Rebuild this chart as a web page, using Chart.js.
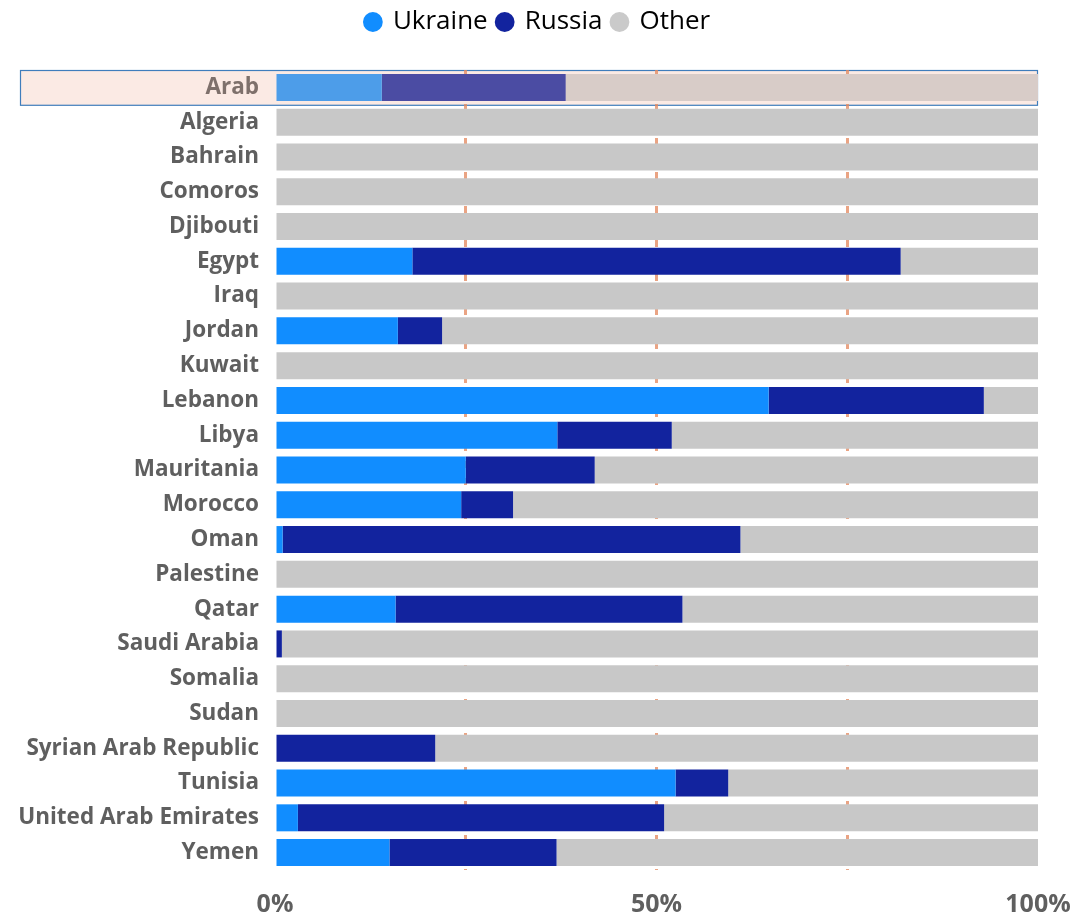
<!DOCTYPE html>
<html>
<head>
<meta charset="utf-8">
<title>Ukraine / Russia share</title>
<script src="https://cdn.jsdelivr.net/npm/chart.js@4/dist/chart.umd.min.js"></script>
<style>
  html, body { margin: 0; padding: 0; background: #fff; }
  #chart { display: block; }
</style>
</head>
<body>
<canvas id="chart" width="1076" height="916"></canvas>
<script>
// Share of imports by origin (%)
const countries = ['Arab', 'Algeria', 'Bahrain', 'Comoros', 'Djibouti', 'Egypt', 'Iraq', 'Jordan',
  'Kuwait', 'Lebanon', 'Libya', 'Mauritania', 'Morocco', 'Oman', 'Palestine', 'Qatar',
  'Saudi Arabia', 'Somalia', 'Sudan', 'Syrian Arab Republic', 'Tunisia', 'United Arab Emirates', 'Yemen'];

const ukraine = [14.0, 0, 0, 0, 0, 18.0, 0, 16.1, 0, 64.7, 37.0, 25.0, 24.4, 1.0, 0, 15.8,
  0, 0, 0, 0, 52.5, 3.0, 15.0];
const russia = [24.1, 0, 0, 0, 0, 64.0, 0, 5.8, 0, 28.2, 15.0, 16.9, 6.8, 60.0, 0, 37.6,
  0.9, 0, 0, 21.0, 6.9, 48.0, 21.9];
const other = [61.9, 100, 100, 100, 100, 18.0, 100, 78.1, 100, 7.1, 48.0, 58.1, 68.8, 39.0, 100, 46.6,
  99.1, 100, 100, 79.0, 40.6, 49.0, 63.1];

const xTicks = [0, 25, 50, 75, 100];
const xLabels = { 0: '0%', 50: '50%', 100: '100%' };

const selected = 0; // highlighted row
const textGrey = '#5F5F5F';

// first row is drawn faded on the selection background
function rowColors(base, faded) {
  return countries.map((_, i) => (i === selected ? faded : base));
}

// pink band + outline behind the selected row
const selectionBand = {
  id: 'selectionBand',
  beforeDraw(chart) {
    const y = chart.scales.y;
    const { ctx, chartArea } = chart;
    const band = y.height / countries.length;
    const cy = y.getPixelForValue(selected);
    const top = Math.round(cy - band / 2) + 0.5;
    ctx.save();
    ctx.fillStyle = '#FBEAE4';
    ctx.fillRect(20, top, chartArea.right - 21, band);
    ctx.strokeStyle = '#3F7DBC';
    ctx.lineWidth = 1.2;
    ctx.strokeRect(20.5, top, chartArea.right - 21, band);
    ctx.restore();
  }
};

// extra room under the legend, and keep it centred on the whole canvas
const legendGap = {
  id: 'legendGap',
  beforeInit(chart) {
    const fit = chart.legend.fit;
    chart.legend.fit = function () {
      fit.bind(chart.legend)();
      this.height += 25;
    };
  },
  afterLayout(chart) {
    chart.legend.left = 0;
    chart.legend.right = chart.width;
  }
};

new Chart(document.getElementById('chart'), {
  type: 'bar',
  data: {
    labels: countries,
    datasets: [
      { label: 'Ukraine', data: ukraine, backgroundColor: rowColors('#118DFF', '#4D9DE9') },
      { label: 'Russia', data: russia, backgroundColor: rowColors('#12239E', '#4B4CA3') },
      { label: 'Other', data: other, backgroundColor: rowColors('#C8C8C8', '#D8CCC8') }
    ]
  },
  options: {
    indexAxis: 'y',
    responsive: false,
    animation: false,
    devicePixelRatio: 1,
    layout: { padding: { top: -1, right: 38, bottom: 0, left: 0 } },
    datasets: {
      bar: { categoryPercentage: 1, barPercentage: 0.776, borderWidth: 0 }
    },
    plugins: {
      legend: {
        position: 'top',
        align: 'center',
        labels: {
          usePointStyle: true,
          pointStyle: 'circle',
          boxWidth: 14,
          boxHeight: 14,
          padding: 10,
          color: textGrey,
          font: { family: 'Open Sans', size: 26 },
          generateLabels(chart) {
            const base = ['#118DFF', '#12239E', '#CACACA'];
            return chart.data.datasets.map((ds, i) => ({
              text: ds.label,
              fillStyle: base[i],
              strokeStyle: base[i],
              lineWidth: 0,
              pointStyle: 'circle',
              datasetIndex: i
            }));
          }
        }
      },
      tooltip: { enabled: false }
    },
    scales: {
      x: {
        stacked: true,
        min: 0,
        max: 100,
        z: 1,
        afterBuildTicks(scale) {
          scale.ticks = xTicks.map(v => ({ value: v }));
        },
        afterFit(scale) {
          scale.height = 46;
          scale.paddingLeft = 0;
          scale.paddingRight = 0;
        },
        border: { display: false, dash: [7, 10] },
        grid: {
          drawTicks: false,
          lineWidth: 3,
          color: ctx => (ctx.tick && (ctx.tick.value === 0 || ctx.tick.value === 100))
            ? 'rgba(0,0,0,0)' : 'rgba(228,138,98,0.78)'
        },
        ticks: {
          autoSkip: false,
          maxRotation: 0,
          padding: 20,
          color: textGrey,
          font: { family: 'Open Sans', size: 25, weight: 'bold' },
          callback: v => xLabels[v] || ''
        }
      },
      y: {
        stacked: true,
        afterFit(scale) { scale.width = 275; },
        border: { display: false },
        grid: { display: false, drawTicks: false },
        ticks: {
          autoSkip: false,
          padding: 16,
          color: ctx => (ctx.index === selected ? '#7E706B' : textGrey),
          font: { family: 'Open Sans', size: 22.5, weight: 'bold' }
        }
      }
    }
  },
  plugins: [legendGap, selectionBand]
});
</script>
</body>
</html>
